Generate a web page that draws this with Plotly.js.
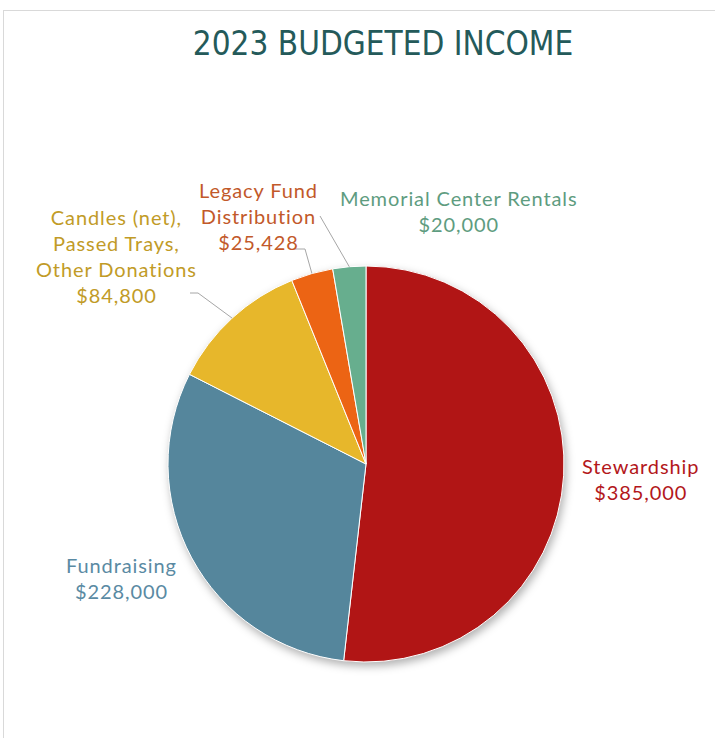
<!DOCTYPE html>
<html>
<head>
<meta charset="utf-8">
<script src="https://cdn.plot.ly/plotly-3.0.1.min.js"></script>
<style>
  html, body { margin: 0; padding: 0; background: #fff; }
  #frame { position: absolute; left: 3px; top: 10px; width: 712px; height: 728px;
           border-left: 1px solid #d9d9d9; border-top: 1px solid #d9d9d9; }
  #chart { position: absolute; left: 0; top: 0; width: 715px; height: 738px; }
  .pielayer { filter: drop-shadow(2px 4px 4px rgba(0,0,0,0.30)); }
  .annotation-text { letter-spacing: 0.9px; }
</style>
</head>
<body>
<div id="frame"></div>
<div id="chart"></div>
<script>
// ---- data ----
const categories = ["Stewardship", "Fundraising", "Candles (net),<br>Passed Trays,<br>Other Donations", "Legacy Fund<br>Distribution", "Memorial Center Rentals"];
const values = [385000, 228000, 84800, 25428, 20000];
const valueLabels = ["$385,000", "$228,000", "$84,800", "$25,428", "$20,000"];

// ---- styling ----
const sliceColors = ["#B11515", "#55869C", "#E7B72B", "#EC6414", "#67AE8E"];
const textColors  = ["#B3171B", "#5A8AA3", "#C19B27", "#C2592A", "#5E9C80"];
const W = 715, H = 738;
const cx = 366, cy = 464, R = 198;
// label centre positions (px)
const labelPos = [[640, 479], [121, 578], [116, 256], [258, 216], [459, 211]];
// leader line start points (px), null = no leader
const leaderStart = [null, null, [[190, 293], [198, 293]], [[294, 249], [305, 249]], [[320, 216]]];

const px = x => x / W, py = y => 1 - y / H;

const total = values.reduce((a, b) => a + b, 0);
let cum = 0;
const annotations = [];
const shapes = [];
values.forEach((v, i) => {
  const mid = (cum + v / 2) / total * 2 * Math.PI;
  cum += v;
  annotations.push({
    xref: 'paper', yref: 'paper', x: px(labelPos[i][0]), y: py(labelPos[i][1]),
    xanchor: 'center', yanchor: 'middle', showarrow: false, align: 'center',
    text: categories[i] + '<br>' + valueLabels[i],
    font: { family: 'Lato, "DejaVu Sans", sans-serif', size: 20, color: textColors[i] }
  });
  if (leaderStart[i]) {
    const ex = cx + R * Math.sin(mid), ey = cy - R * Math.cos(mid);
    const pts = leaderStart[i].concat([[ex, ey]]);
    let path = 'M' + pts.map(p => px(p[0]) + ',' + py(p[1])).join(' L');
    shapes.push({ type: 'path', xref: 'paper', yref: 'paper', path: path,
                  line: { color: '#a6a6a6', width: 1 } });
  }
});

const trace = {
  type: 'pie', values: values, labels: categories, sort: false,
  direction: 'clockwise', rotation: 0, textinfo: 'none', hoverinfo: 'none',
  marker: { colors: sliceColors, line: { color: '#ffffff', width: 1 } },
  domain: { x: [px(cx - R), px(cx + R)], y: [py(cy + R), py(cy - R)] },
  showlegend: false
};

const layout = {
  width: W, height: H, margin: { l: 0, r: 0, t: 0, b: 0 },
  paper_bgcolor: 'rgba(0,0,0,0)', plot_bgcolor: 'rgba(0,0,0,0)',
  title: { text: '2023 BUDGETED INCOME', x: px(383), xanchor: 'center', y: py(43), yanchor: 'middle',
           font: { family: '"Liberation Sans Narrow", "DejaVu Sans Condensed", sans-serif', size: 33, color: '#245A5A' } },
  annotations: annotations, shapes: shapes, showlegend: false
};

Plotly.newPlot('chart', [trace], layout, { staticPlot: true, displayModeBar: false });
</script>
</body>
</html>
